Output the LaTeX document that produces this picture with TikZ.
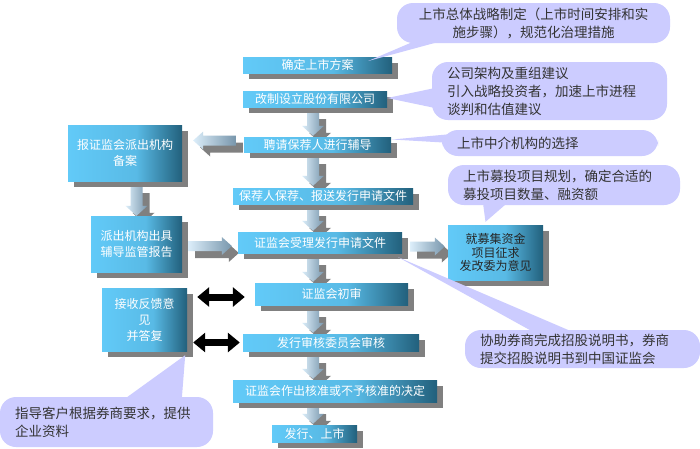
\documentclass[tikz,border=0pt]{standalone}
\usepackage{fontspec}
\setmainfont{Noto Sans CJK SC}
\usetikzlibrary{shadows,calc,arrows.meta}

\definecolor{boxlight}{HTML}{62CAF8}
\definecolor{boxdark}{HTML}{22607C}
\definecolor{shadowgray}{HTML}{808080}
\definecolor{lilac}{HTML}{CCCCFF}
\definecolor{arrowlight}{HTML}{DCEEFA}
\definecolor{arrowdark}{HTML}{7896AC}

\pgfdeclarehorizontalshading{boxfade}{100bp}{color(0bp)=(boxlight); color(25bp)=(boxlight); color(55bp)=(boxlight!85!boxdark); color(75bp)=(boxdark); color(100bp)=(boxdark)}

\pgfdeclarelayer{bg}
\pgfsetlayers{bg,main}

% block arrow: from, to, half shaft, half head
\newcommand{\bigarrow}[4]{%
  \coordinate (ba) at (#1);
  \coordinate (bb) at (#2);
  \coordinate (bh) at ($(bb)!10pt!(ba)$);
  \shade[left color=arrowlight,right color=arrowdark,
         drop shadow={shadow xshift=7pt,shadow yshift=-7pt,fill=shadowgray,opacity=1}]
    ($(ba)!#3!90:(bb)$) -- ($(bh)!#3!90:(bb)$) -- ($(bh)!#4!90:(bb)$) -- (bb)
    -- ($(bh)!#4!-90:(bb)$) -- ($(bh)!#3!-90:(bb)$) -- ($(ba)!#3!-90:(bb)$) -- cycle;
}

\begin{document}
\begin{tikzpicture}[x=1pt,y=-1pt]
		\tikzstyle{flow}   = [shade,shading=boxfade,text=white,inner sep=0pt,align=center,
		                      font=\fontsize{12}{16}\selectfont,
		                      drop shadow={shadow xshift=6pt,shadow yshift=-6pt,fill=shadowgray,opacity=1}]
		\tikzstyle{bubble} = [fill=lilac,rounded corners=16pt,inner xsep=15pt,inner ysep=0pt,
		                      font=\fontsize{13.5}{18}\selectfont,text=black!80,align=left]
		\tikzstyle{twoway} = [line width=7pt,{Triangle[width=19pt,length=12pt]}-{Triangle[width=19pt,length=12pt]}]
		
		\useasboundingbox (0,0) rectangle (700,448);
		\begin{pgfonlayer}{bg}
			\fill[white] (0,0) rectangle (700,448);
		\end{pgfonlayer}
		
		% main column
		\node[flow,minimum width=149,minimum height=16] (plan)    at (317.5,65)  {确定上市方案};
		\node[flow,minimum width=144,minimum height=16] (reform)  at (315,99)    {改制设立股份有限公司};
		\node[flow,minimum width=147,minimum height=15] (sponsor) at (317.5,144.5){聘请保荐人进行辅导};
		\node[flow,minimum width=180,minimum height=16] (submit)  at (323,196)   {保荐人保荐、报送发行申请文件};
		\node[flow,minimum width=164,minimum height=21] (accept)  at (320,242.5) {证监会受理发行申请文件};
		\node[flow,minimum width=153,minimum height=22] (prelim)  at (331.5,294) {证监会初审};
		\node[flow,minimum width=176,minimum height=17] (review)  at (331,342.5) {发行审核委员会审核};
		\node[flow,minimum width=204,minimum height=22] (decide)  at (335,391)   {证监会作出核准或不予核准的决定};
		\node[flow,minimum width=85,minimum height=17]  (listing) at (314.5,433.5){发行、上市};
		
		% side boxes
		\node[flow,minimum width=114,minimum height=56] (filing)   at (125,153)   {报证监会派出机构\\备案};
		\node[flow,minimum width=91,minimum height=56]  (report)   at (136.5,244) {派出机构出具\\辅导监管报告};
		\node[flow,minimum width=85,minimum height=63]  (feedback) at (144.5,319.5){接收反馈意\\见\\并答复};
		\node[flow,minimum width=95,minimum height=55,text=black!85,
		      font=\fontsize{12}{13.5}\selectfont]    (fund)     at (495.5,252.5){就募集资金\\项目征求\\发改委为意见};
		
		\coordinate (spine) at (313,0);
		\begin{pgfonlayer}{bg}
			\bigarrow{$(reform.south -| spine)+(0,5)$}{$(sponsor.north -| spine)+(0,-1)$}{6pt}{11pt}
			\bigarrow{$(sponsor.south -| spine)+(0,5)$}{$(submit.north -| spine)+(0,-2)$}{6pt}{11pt}
			\bigarrow{$(submit.south -| spine)+(0,5)$}{$(accept.north -| spine)+(0,-1)$}{6pt}{11pt}
			\bigarrow{$(accept.south -| spine)+(0,5)$}{$(prelim.north -| spine)+(0,-1)$}{6pt}{11pt}
			\bigarrow{$(prelim.south -| spine)+(0,5)$}{$(review.north -| spine)+(0,-1)$}{6pt}{11pt}
			\bigarrow{$(review.south -| spine)+(0,5)$}{$(decide.north -| spine)+(0,-1)$}{6pt}{11pt}
			\bigarrow{$(decide.south -| spine)+(0,5)$}{$(listing.north -| spine)+(0,-1)$}{6pt}{11pt}
			\bigarrow{$(sponsor.west)+(-8,-4)$}{$(filing.east |- sponsor.west)+(11,-4)$}{5pt}{9pt}
			\bigarrow{$(filing.south -| report.north)+(0,5)$}{report.north}{6pt}{11pt}
			\bigarrow{$(report.east)+(6,2)$}{$(accept.west |- report.east)+(-6,2)$}{5pt}{9pt}
			\bigarrow{$(accept.east)+(8,4)$}{$(fund.west |- accept.east)+(-3,4)$}{5pt}{9pt}
		\end{pgfonlayer}
		
		\draw[twoway] ($(feedback.east |- prelim.west)+(10,3)$) -- ($(prelim.west)+(-10,3)$);
		\draw[twoway] ($(feedback.east |- review.west)+(6,0)$) -- ($(review.west)+(-3,0)$);
		
		% notes
		\node[bubble,minimum width=273,minimum height=40,text width=243,align=center] (strategy) at (533.5,23)
			{上市总体战略制定（上市时间安排和实\\施步骤），规范化治理措施};
		\node[bubble,minimum width=235,minimum height=58,text width=205] (structure) at (549.5,91)
			{公司架构及重组建议\\引入战略投资者，加速上市进程\\谈判和估值建议};
		\node[bubble,minimum width=216,minimum height=26,text width=186] (agency) at (550,143)
			{上市中介机构的选择};
		\node[bubble,minimum width=232,minimum height=40,text width=202] (invest) at (564,185)
			{上市募投项目规划，确定合适的\\募投项目数量、融资额};
		\node[bubble,minimum width=235,minimum height=38,text width=205] (prospect) at (582.5,349)
			{协助券商完成招股说明书，券商\\提交招股说明书到中国证监会};
		\node[bubble,minimum width=213,minimum height=50,text width=183] (guide) at (106.5,422)
			{指导客户根据券商要求，提供\\企业资料};
		
		\fill[lilac] ($(strategy.south west)+(20,-3)$) -- ($(plan.east)+(-24,-4)$) -- ($(strategy.south west)+(48,-3)$) -- cycle;
		\fill[lilac] ($(structure.west)+(8,-4)$) -- ($(reform.east)+(0,-1)$) -- ($(structure.west)+(8,18)$) -- cycle;
		\fill[lilac] ($(agency.west)+(10,-9)$) -- ($(sponsor.east)+(1,-5)$) -- ($(agency.west)+(10,0)$) -- cycle;
		\fill[lilac] ($(invest.south)+(-81,-2)$) -- ($(fund.north)+(-10,-3)$) -- ($(invest.south)+(-57,-2)$) -- cycle;
		\fill[lilac] ($(prospect.north west)+(70,3)$) -- ($(accept.south east)+(-4,4)$) -- ($(prospect.north west)+(110,3)$) -- cycle;
		\fill[lilac] ($(guide.north west)+(125,2)$) -- ($(feedback.south east)+(-2,4)$) -- ($(guide.north west)+(182,2)$) -- cycle;
	\end{tikzpicture}
\end{document}
